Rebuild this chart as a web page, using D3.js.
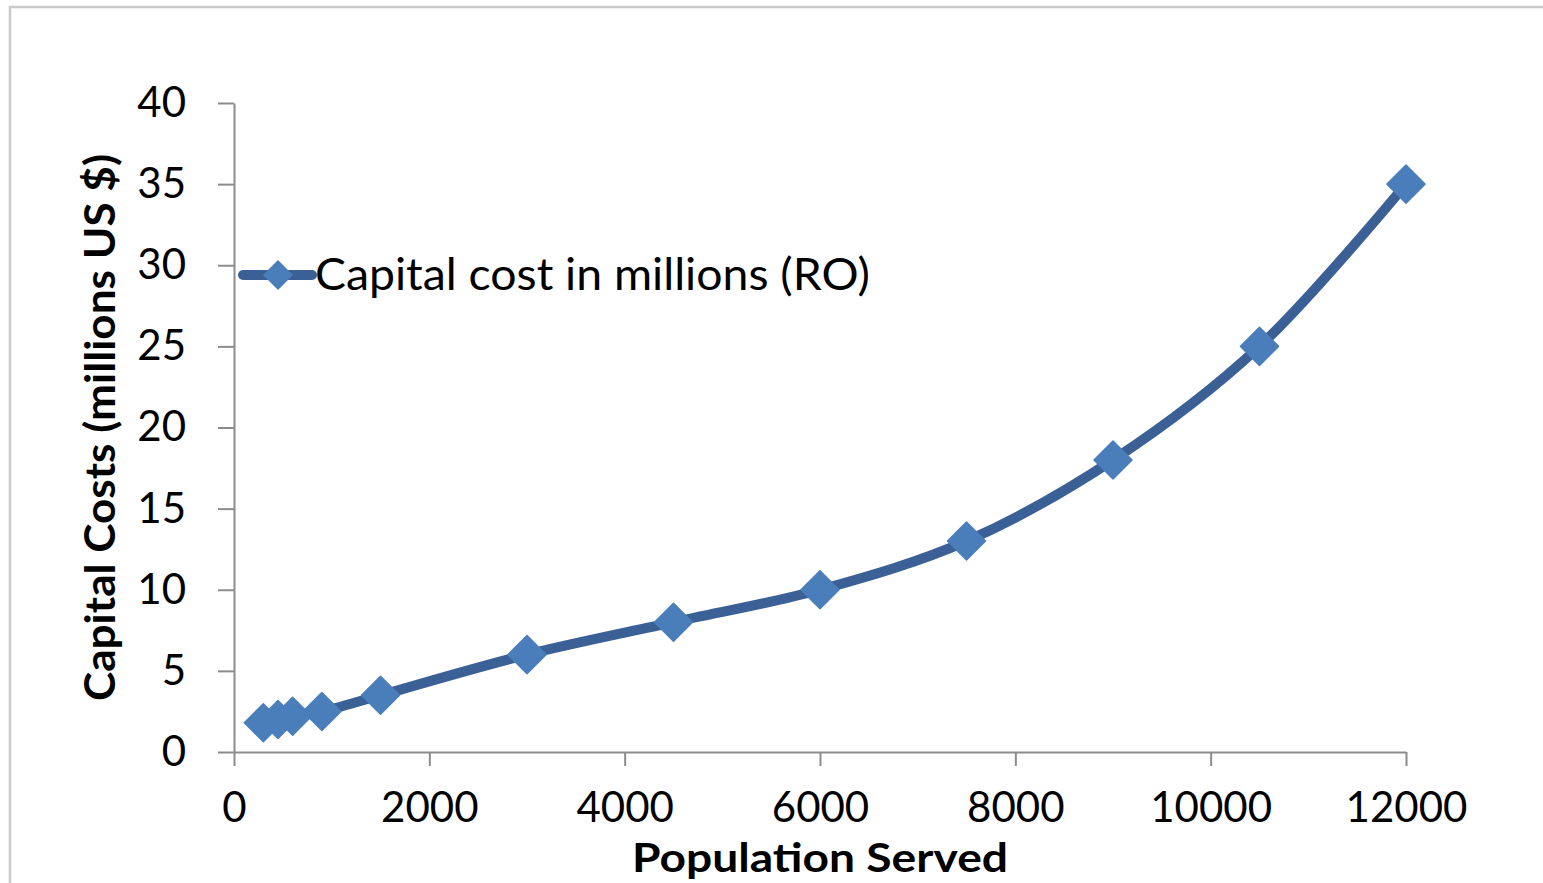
<!DOCTYPE html>
<html>
<head>
<meta charset="utf-8">
<script src="https://cdn.jsdelivr.net/npm/d3@7"></script>
<style>
  html, body { margin: 0; padding: 0; background: #fff; }
  svg { display: block; }
  text { font-family: Lato, "Open Sans", sans-serif; fill: #000; }
</style>
</head>
<body>
<svg id="chart" width="1543" height="883"></svg>
<script>
// Population served vs. capital cost (millions US $) for RO plants
const population = [300, 450, 600, 900, 1500, 3000, 4500, 6000, 7500, 9000, 10500, 12000];
const capitalCost = [1.8, 2.0, 2.2, 2.5, 3.5, 6, 8, 10, 13, 18, 25, 35];
const xTicks = [0, 2000, 4000, 6000, 8000, 10000, 12000];
const yTicks = [0, 5, 10, 15, 20, 25, 30, 35, 40];
const seriesName = "Capital cost in millions (RO)";
const xTitle = "Population Served";
const yTitle = "Capital Costs (millions US $)";

const svg = d3.select("#chart");
const lineColor = "#3a6095";
const markerColor = "#4a7ebb";
const axisColor = "#8c8c8c";

// outer chart frame
svg.append("rect")
  .attr("x", 10).attr("y", 7)
  .attr("width", 1560).attr("height", 900)
  .attr("fill", "none").attr("stroke", "#cacaca").attr("stroke-width", 2.5);

const plot = { left: 234, right: 1406, top: 103, bottom: 752 };

const x = d3.scaleLinear().domain([0, 12000]).range([plot.left, plot.right]);
const y = d3.scaleLinear().domain([0, 40]).range([plot.bottom, plot.top]);

// y axis
const yAxis = svg.append("g")
  .attr("transform", `translate(${plot.left},0)`)
  .call(d3.axisLeft(y).tickValues(yTicks).tickSize(16).tickPadding(32).tickSizeOuter(0));
// x axis
const xAxis = svg.append("g")
  .attr("transform", `translate(0,${plot.bottom})`)
  .call(d3.axisBottom(x).tickValues(xTicks).tickSize(14).tickPadding(26).tickSizeOuter(0).tickFormat(d3.format("d")));

[xAxis, yAxis].forEach(g => {
  g.select(".domain").attr("stroke", axisColor).attr("stroke-width", 2);
  g.selectAll(".tick line").attr("stroke", axisColor).attr("stroke-width", 2);
  g.selectAll(".tick text")
    .style("font-family", "Lato, sans-serif")
    .style("font-size", "42px")
    .attr("fill", "#000");
});

// axis titles
svg.append("text")
  .attr("x", (plot.left + plot.right) / 2)
  .attr("y", 872)
  .attr("text-anchor", "middle")
  .attr("textLength", 376).attr("lengthAdjust", "spacingAndGlyphs")
  .style("font-size", "40px").style("font-weight", "bold")
  .text(xTitle);

svg.append("text")
  .attr("transform", `translate(115,${(plot.top + plot.bottom) / 2}) rotate(-90)`)
  .attr("text-anchor", "middle")
  .attr("textLength", 547).attr("lengthAdjust", "spacingAndGlyphs")
  .style("font-size", "42px").style("font-weight", "bold")
  .text(yTitle);

// smoothed data line
const pts = population.map((p, i) => [p, capitalCost[i]]);
const line = d3.line()
  .x(d => x(d[0])).y(d => y(d[1]))
  .curve(d3.curveCatmullRom.alpha(0.5));

svg.append("path")
  .datum(pts)
  .attr("d", line)
  .attr("fill", "none")
  .attr("stroke", lineColor)
  .attr("stroke-width", 10)
  .attr("stroke-linejoin", "round");

// diamond markers
const diamond = d3.symbol().type(d3.symbolSquare).size(19 * 19 * 2);
svg.append("g").selectAll("path")
  .data(pts)
  .join("path")
  .attr("d", diamond)
  .attr("transform", d => `translate(${x(d[0])},${y(d[1])}) rotate(45)`)
  .attr("fill", markerColor)
  .attr("stroke", markerColor)
  .attr("stroke-width", 1.5)
  .attr("stroke-linejoin", "round");

// legend
const lg = svg.append("g").attr("transform", "translate(243,275)");
lg.append("line")
  .attr("x1", 0).attr("x2", 69).attr("y1", 0).attr("y2", 0)
  .attr("stroke", lineColor).attr("stroke-width", 10).attr("stroke-linecap", "round");
lg.append("path")
  .attr("d", d3.symbol().type(d3.symbolSquare).size(15 * 15 * 2)())
  .attr("transform", "translate(35,0) rotate(45)")
  .attr("fill", markerColor);
lg.append("text")
  .attr("x", 72).attr("y", 0).attr("dy", "0.35em")
  .attr("textLength", 555).attr("lengthAdjust", "spacingAndGlyphs")
  .style("font-size", "44px")
  .text(seriesName);
</script>
</body>
</html>
